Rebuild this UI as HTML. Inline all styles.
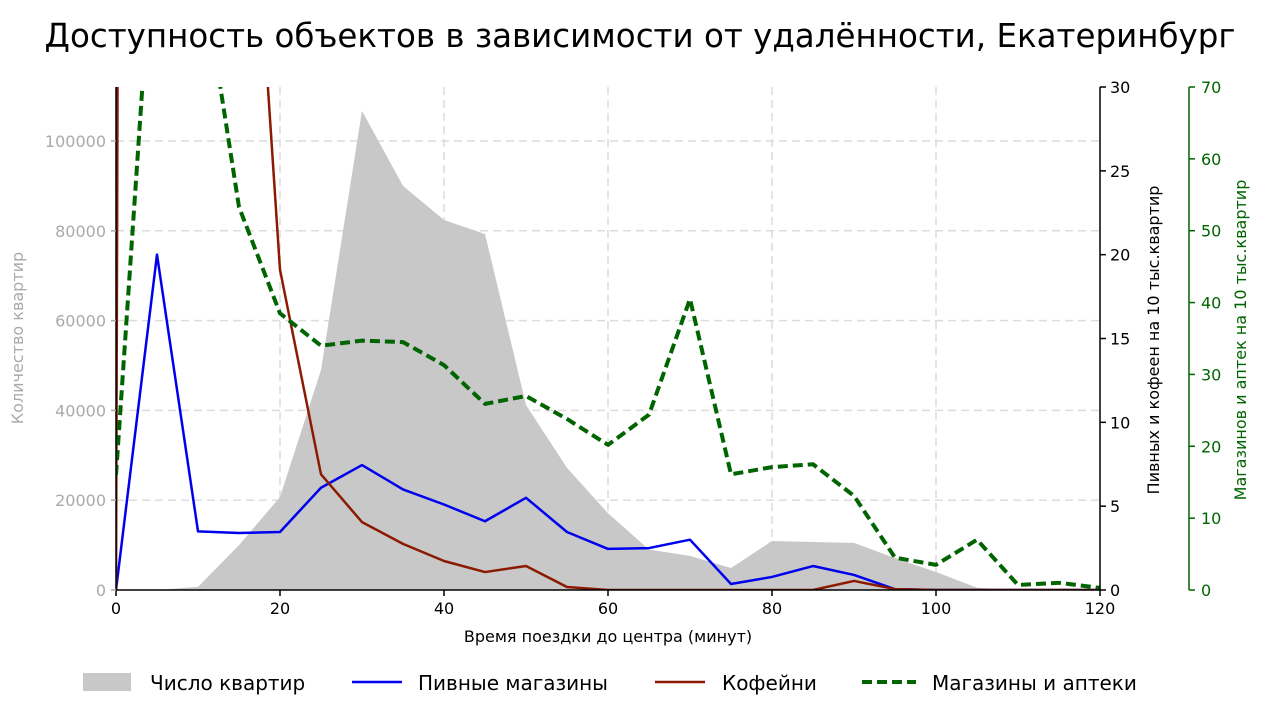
<!DOCTYPE html>
<html><head><meta charset="utf-8"><style>
body{margin:0;background:#fff;}
svg{display:block;font-family:"DejaVu Sans","Liberation Sans",sans-serif;}
</style></head><body>
<svg id="chart" width="1280" height="720" viewBox="0 0 1280 720" xmlns="http://www.w3.org/2000/svg">
<text x="640" y="47" font-size="32.5" text-anchor="middle" fill="#000">Доступность объектов в зависимости от удалённости, Екатеринбург</text>
<g id="grid"></g>
<defs><clipPath id="clip"><rect x="116" y="87" width="984" height="503"/></clipPath></defs>
<g id="plot" clip-path="url(#clip)"></g>
<g id="axes"></g>
<g font-size="20">
  <rect x="83" y="673" width="48" height="18" fill="#c8c8c8"/>
  <text x="150" y="690">Число квартир</text>
  <line x1="352" y1="682" x2="402" y2="682" stroke="#0000ee" stroke-width="2.5"/>
  <text x="418" y="690">Пивные магазины</text>
  <line x1="655" y1="682" x2="705" y2="682" stroke="#8b1a00" stroke-width="2.5"/>
  <text x="722" y="690">Кофейни</text>
  <line x1="862" y1="682" x2="916" y2="682" stroke="#006400" stroke-width="4" stroke-dasharray="10,5"/>
  <text x="932" y="690">Магазины и аптеки</text>
</g>
</svg>
<script>
const minutes = [0,5,10,15,20,25,30,35,40,45,50,55,60,65,70,75,80,85,90,95,100,105,110,115,120];
const flats = [0,0,700,10000,20700,49000,106700,90000,82400,79300,41200,27200,17100,9000,7600,4900,10900,10700,10500,7100,4000,500,0,0,0];
const beer = [0,20,3.5,3.4,3.46,6.1,7.45,6,5.1,4.1,5.5,3.46,2.45,2.5,3,0.36,0.78,1.43,0.9,0.05,0,0,0,0,0];
const coffee = [0,800,400,56,19.1,6.9,4.05,2.75,1.73,1.07,1.43,0.18,0,0,0,0,0,0,0.54,0.05,0,0,0,0,0];
const shops = [16,100,90,53.3,38.5,34,34.7,34.5,31.3,25.9,27,23.8,20.2,24.4,40.5,16.1,17.1,17.5,13.1,4.5,3.5,7,0.7,1,0.3];
const xTicks = [0,20,40,60,80,100,120];
const leftTicks = [0,20000,40000,60000,80000,100000];
const rightTicks = [0,5,10,15,20,25,30];
const greenTicks = [0,10,20,30,40,50,60,70];

const NS="http://www.w3.org/2000/svg";
const X0=116,X1=1100,Y0=590,Y1=87;
const xs=v=>X0+(v/120)*(X1-X0);
const yL=v=>Y0-v*(449/100000);
const yR=v=>Y0-(v/30)*(Y0-Y1);
const yG=v=>Y0-(v/70)*(Y0-Y1);
function mk(tag,attrs,parent,txt){const e=document.createElementNS(NS,tag);for(const k in attrs)e.setAttribute(k,attrs[k]);if(txt!==undefined)e.textContent=txt;parent.appendChild(e);return e;}
const grid=document.getElementById('grid'),plot=document.getElementById('plot'),axes=document.getElementById('axes');

xTicks.forEach(t=>{if(t>0&&t<120){const l=mk('line',{x1:xs(t),x2:xs(t),y1:Y1,y2:Y0,stroke:'#dcdcdc','stroke-width':1.5,'stroke-dasharray':'8,5'},grid);

}});
leftTicks.forEach(t=>{if(t>0){const l=mk('line',{x1:X0,x2:X1,y1:yL(t),y2:yL(t),stroke:'#dcdcdc','stroke-width':1.5,'stroke-dasharray':'8,5'},grid);

}});

let d='M'+xs(minutes[0])+','+Y0;
minutes.forEach((m,i)=>{d+=' L'+xs(m)+','+yL(flats[i]);});
d+=' L'+xs(minutes[minutes.length-1])+','+Y0+' Z';
const area=mk('path',{d:d,fill:'#c8c8c8'},plot);



function line(vals,yf,color,w,dash,name){
  const pts=minutes.map((m,i)=>xs(m)+','+yf(vals[i])).join(' ');
  const a={points:pts,fill:'none',stroke:color,'stroke-width':w,'stroke-linejoin':'round'};
  if(dash)a['stroke-dasharray']=dash;
  const p=mk('polyline',a,plot);
  
  
}
line(beer,yR,'#0000ee',2.5,null,'beer-line');
line(coffee,yR,'#8b1a00',2.5,null,'coffee-line');
line(shops,yG,'#006400',4,'10,5','shops-line');

const sp=[[X0,Y1,X0,Y0,'#000','left-spine'],[X0,Y0,X1,Y0,'#000','x-axis-line'],[X1,Y1,X1,Y0,'#000','right-spine'],[1189,Y1,1189,Y0,'#006400','green-spine']];
sp.forEach(s=>{const l=mk('line',{x1:s[0],y1:s[1],x2:s[2],y2:s[3],stroke:s[4],'stroke-width':1.5},axes);

});
xTicks.forEach(t=>{mk('line',{x1:xs(t),x2:xs(t),y1:Y0,y2:Y0+6,stroke:'#000','stroke-width':1.5},axes);
const tx=mk('text',{x:xs(t),y:Y0+24,'font-size':16,'text-anchor':'middle'},axes,String(t));

});
leftTicks.forEach(t=>{mk('line',{x1:X0-5,x2:X0,y1:yL(t),y2:yL(t),stroke:'#aaa','stroke-width':1.5},axes);
const tx=mk('text',{x:X0-10,y:yL(t)+6,'font-size':16,'text-anchor':'end',fill:'#aaa'},axes,String(t));

});
rightTicks.forEach(t=>{mk('line',{x1:X1,x2:X1+6,y1:yR(t),y2:yR(t),stroke:'#000','stroke-width':1.5},axes);
const tx=mk('text',{x:X1+10,y:yR(t)+6,'font-size':16},axes,String(t));

});
greenTicks.forEach(t=>{mk('line',{x1:1189,x2:1195,y1:yG(t),y2:yG(t),stroke:'#006400','stroke-width':1.5},axes);
const tx=mk('text',{x:1201,y:yG(t)+6,'font-size':16,fill:'#006400'},axes,String(t));

});
let t1=mk('text',{x:608,y:642,'font-size':16,'text-anchor':'middle'},axes,'Время поездки до центра (минут)');


let t2=mk('text',{x:0,y:0,'font-size':16,'text-anchor':'middle',fill:'#aaa',transform:'translate(23,338) rotate(-90)'},axes,'Количество квартир');


let t3=mk('text',{x:0,y:0,'font-size':16,'text-anchor':'middle',transform:'translate(1159,340) rotate(-90)'},axes,'Пивных и кофеен на 10 тыс.квартир');


let t4=mk('text',{x:0,y:0,'font-size':16,'text-anchor':'middle',fill:'#006400',transform:'translate(1246,340) rotate(-90)'},axes,'Магазинов и аптек на 10 тыс.квартир');


</script>
</body></html>
